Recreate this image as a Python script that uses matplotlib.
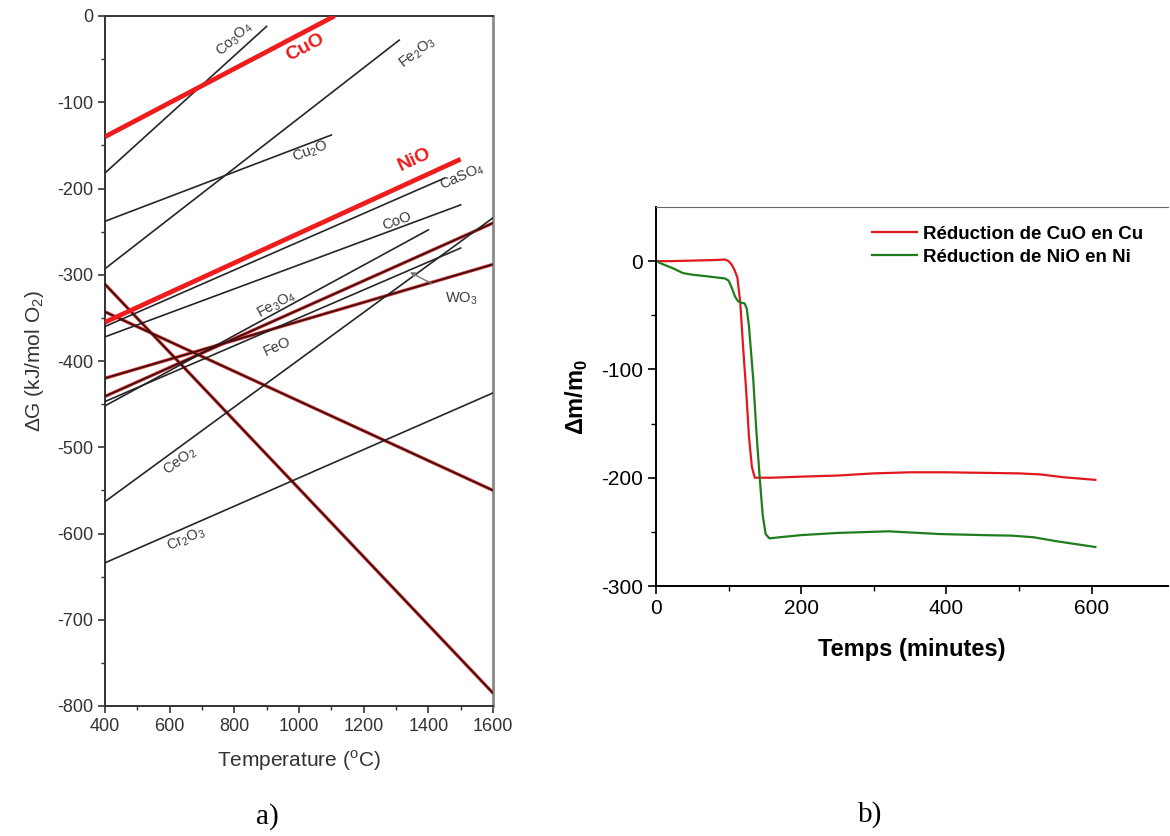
import numpy as np
import matplotlib.pyplot as plt
from matplotlib.ticker import MultipleLocator, FixedLocator

plt.rcParams['font.family'] = ['Liberation Sans', 'DejaVu Sans']
plt.rcParams['mathtext.fontset'] = 'custom'
plt.rcParams['mathtext.rm'] = 'Liberation Sans'
plt.rcParams['mathtext.bf'] = 'Liberation Sans:bold'
plt.rcParams['axes.unicode_minus'] = False

# --- a) diagramme d'Ellingham (droites lues sur la figure) ---
droites = ['Co3O4', 'CuO', 'Fe2O3', 'Cu2O', 'NiO', 'CaSO4', 'CoO', 'Fe3O4',
           'FeO', 'WO3', 'CeO2', 'Cr2O3', 'desc1', 'desc2', 'mont1']
T_debut = [400, 400, 400, 400, 400, 400, 400, 400, 400, 400, 400, 400, 400, 400, 400]
G_debut = [-182, -140, -293, -238, -355, -360, -372, -452, -441, -447, -563, -634, -311, -343, -420]
T_fin = [900, 1110, 1310, 1100, 1500, 1450, 1500, 1400, 1600, 1500, 1600, 1600, 1600, 1600, 1600]
G_fin = [-12, 0, -28, -138, -166, -188, -219, -248, -240, -269, -234, -437, -785, -550, -288]
styles = ['noir', 'rouge', 'noir', 'noir', 'rouge', 'noir', 'noir', 'noir',
          'brun', 'noir', 'noir', 'noir', 'brun', 'brun', 'brun']

etiquettes = ['Co$_3$O$_4$', 'CuO', 'Fe$_2$O$_3$', 'Cu$_2$O', 'NiO', 'CaSO$_4$', 'CoO',
              'Fe$_3$O$_4$', 'FeO', 'CeO$_2$', 'Cr$_2$O$_3$']
etiq_droite = ['Co3O4', 'CuO', 'Fe2O3', 'Cu2O', 'NiO', 'CaSO4', 'CoO',
               'Fe3O4', 'FeO', 'CeO2', 'Cr2O3']
etiq_T = [802, 1019, 1368, 1037, 1359, 1504, 1303, 932, 932, 632, 650]
etiq_G = [-27, -36, -42, -157, -167, -186, -238, -335, -383, -516, -607]

# --- b) courbes de réduction ---
cuo_t = [0, 20, 50, 80, 95, 100, 104, 108, 112, 116, 120, 124, 128, 132, 136, 140,
         160, 200, 250, 300, 350, 400, 450, 500, 530, 560, 605]
cuo_m = [0, 0, 0.5, 1, 1.5, 0, -3, -8, -15, -38, -80, -118, -162, -190, -200, -200,
         -200, -199, -198, -196, -195, -195, -195.5, -196, -197, -199.5, -202]
nio_t = [0, 10, 23, 37, 50, 70, 95, 100, 104, 109, 113, 118, 122, 125, 128, 131, 134,
         138, 143, 147, 151, 156, 170, 200, 250, 320, 390, 450, 490, 520, 550, 580, 605]
nio_m = [0, -3, -6.5, -11, -12.5, -14, -16, -18, -24, -33, -37, -38.5, -39, -44, -60,
         -85, -110, -155, -202, -235, -252, -256, -255, -253, -251, -249.5, -252, -253,
         -253.5, -255, -258.5, -261.5, -264]

W, H = 1170, 836
fig = plt.figure(figsize=(W / 100, H / 100), dpi=100)

# ---------- a) ----------
ax1 = fig.add_axes([105 / W, 1 - 706 / H, 388 / W, 690 / H])
for i, nom in enumerate(droites):
    xs = [T_debut[i], T_fin[i]]
    ys = [G_debut[i], G_fin[i]]
    if styles[i] == 'rouge':
        ax1.plot(xs, ys, color='#ee1c1c', lw=3.4, solid_capstyle='butt', zorder=4)
    elif styles[i] == 'brun':
        ax1.plot(xs, ys, color='#d83a3a', lw=2.4, zorder=2)
        ax1.plot(xs, ys, color='#3a0d0d', lw=1.2, zorder=3)
    else:
        ax1.plot(xs, ys, color='#262626', lw=1.2, zorder=3)

for txt, nom, t, g in zip(etiquettes, etiq_droite, etiq_T, etiq_G):
    i = droites.index(nom)
    pente = (G_fin[i] - G_debut[i]) / (T_fin[i] - T_debut[i])
    ang = np.degrees(np.arctan(pente))
    if styles[i] == 'rouge':
        ax1.text(t, g, txt, color='#ee1c1c', fontsize=14, fontweight='bold',
                 rotation=ang, transform_rotates_text=True, ha='center', va='center')
    else:
        ax1.text(t, g, txt, color='#3a3a3a', fontsize=10.5,
                 rotation=ang, transform_rotates_text=True, ha='center', va='center')

ax1.annotate('WO$_3$', xy=(1343, -297), xytext=(1501, -328), color='#3a3a3a', fontsize=10.5,
             ha='center', va='center',
             arrowprops=dict(arrowstyle='-|>', color='#777777', lw=1, mutation_scale=7,
                             shrinkA=8, shrinkB=0))

ax1.set_xlim(400, 1600)
ax1.set_ylim(-800, 0)
ax1.xaxis.set_major_locator(MultipleLocator(200))
ax1.xaxis.set_minor_locator(MultipleLocator(100))
ax1.yaxis.set_major_locator(MultipleLocator(100))
ax1.yaxis.set_minor_locator(MultipleLocator(50))
ax1.tick_params(which='major', length=5, width=1.2, labelsize=13, colors='#333333')
ax1.tick_params(which='minor', length=3, width=1.0, colors='#333333')
for s in ['left', 'bottom', 'top']:
    ax1.spines[s].set_color('#333333')
    ax1.spines[s].set_linewidth(1.4)
ax1.spines['right'].set_color('#8a8a8a')
ax1.spines['right'].set_linewidth(2)
ax1.set_xlabel('Temperature ($^\\mathregular{o}$C)', fontsize=15, color='#333333', labelpad=10)
ax1.set_ylabel('ΔG (kJ/mol O$_2$)', fontsize=15, color='#333333', labelpad=8)

# ---------- b) ----------
ax2 = fig.add_axes([656 / W, 1 - 586 / H, 512 / W, 379 / H])
ax2.plot(cuo_t, cuo_m, color='#e0191f', lw=1.6, label='Réduction de CuO en Cu')
ax2.plot(nio_t, nio_m, color='#1f7d1f', lw=1.6, label='Réduction de NiO en Ni')
ax2.set_xlim(0, 705)
ax2.set_ylim(-300, 50)
ax2.xaxis.set_major_locator(MultipleLocator(200))
ax2.xaxis.set_minor_locator(FixedLocator([100, 300, 500]))
ax2.yaxis.set_major_locator(MultipleLocator(100))
ax2.yaxis.set_minor_locator(FixedLocator([-250, -150, -50]))
ax2.tick_params(which='major', length=6, width=1.2, labelsize=15)
ax2.tick_params(which='minor', length=3.5, width=1.0)
ax2.spines['right'].set_visible(False)
ax2.spines['top'].set_color('#666666')
ax2.spines['left'].set_linewidth(1.4)
ax2.spines['bottom'].set_linewidth(1.4)
ax2.set_xlabel('Temps (minutes)', fontsize=17, fontweight='bold', labelpad=14)
ax2.set_ylabel('Δm/m$_\\mathbf{0}$', fontsize=17, fontweight='bold', labelpad=8)
ax2.legend(loc='upper left', bbox_to_anchor=(0.385, 1.0), frameon=False,
           prop={'weight': 'bold', 'size': 13.5}, handlelength=2.4,
           handletextpad=0.35, labelspacing=0.3, borderaxespad=0.6)

fig.text(267 / W, 1 - 817 / H, 'a)', fontsize=21, family='Liberation Serif',
         ha='center', va='center')
fig.text(870 / W, 1 - 815 / H, 'b)', fontsize=21, family='Liberation Serif',
         ha='center', va='center')

fig.savefig('out.png', dpi=100)
